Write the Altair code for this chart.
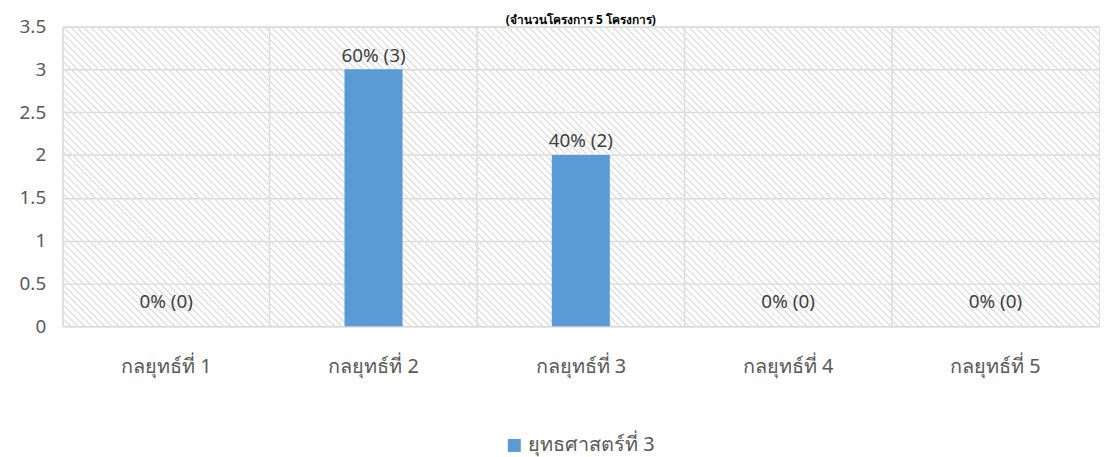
import altair as alt
import pandas as pd

categories = ["กลยุทธ์ที่ 1", "กลยุทธ์ที่ 2", "กลยุทธ์ที่ 3", "กลยุทธ์ที่ 4", "กลยุทธ์ที่ 5"]
values = [0, 3, 2, 0, 0]
series_name = "ยุทธศาสตร์ที่ 3"
title_text = "(จำนวนโครงการ 5 โครงการ)"
y_ticks = [0, 0.5, 1, 1.5, 2, 2.5, 3, 3.5]

total = sum(values)
labels = [f"{round(v / total * 100)}% ({v})" for v in values]

df = pd.DataFrame({"category": categories, "value": values, "label": labels,
                   "series": [series_name] * len(categories)})

W, H = 1044, 302

# diagonal hatch via hard-stop linear gradient (isolines x - y = const)
r = H / W
k = (1 + r) / (1 + r * r)
period = 7.0
line_w = 2.0
span = W + H
stops = []
pos = 0.0
line_c = "#e2e2e2"
bg_c = "rgba(255,255,255,0)"
stops.append({"offset": 0, "color": bg_c})
while pos < span:
    a = pos / span
    b = min((pos + line_w) / span, 1.0)
    stops.append({"offset": a, "color": line_c})
    stops.append({"offset": b, "color": line_c})
    stops.append({"offset": b, "color": bg_c})
    nxt = min((pos + period) / span, 1.0)
    stops.append({"offset": nxt, "color": bg_c})
    pos += period

hatch = alt.LinearGradient(gradient="linear", x1=0, y1=1, x2=k, y2=1 - k * r,
                           stops=[alt.GradientStop(offset=s["offset"], color=s["color"]) for s in stops])

background = alt.Chart(pd.DataFrame({"bg": [0]})).mark_rect(fill=hatch, strokeWidth=0).encode(
    x=alt.value(0), x2=alt.value(W), y=alt.value(0), y2=alt.value(H)
)

FONT = "Noto Sans"

x_enc = alt.X("category:N", sort=categories,
              scale=alt.Scale(paddingInner=0, paddingOuter=0),
              axis=alt.Axis(title=None, labelAngle=0, grid=True, bandPosition=0,
                            ticks=False, domain=False, labelPadding=31,
                            gridColor="#d9d9d9", gridWidth=1.5,
                            labelFontSize=20, labelColor="#595959", labelFont=FONT))

bars = alt.Chart(df).mark_bar(width=alt.RelativeBandSize(0.28)).encode(
    x=x_enc,
    y=alt.Y("value:Q", scale=alt.Scale(domain=[0, 3.5]),
            axis=alt.Axis(values=y_ticks, format="~g", title=None, ticks=False,
                          domain=False, labelPadding=17, gridColor="#d9d9d9", gridWidth=1.5,
                          labelFontSize=19, labelColor="#595959", labelFont=FONT)),
    color=alt.Color("series:N", scale=alt.Scale(domain=[series_name], range=["#5b9bd5"]),
                    legend=alt.Legend(title=None, orient="none", legendX=445, legendY=412,
                                      symbolType="square", symbolSize=170,
                                      labelFontSize=20, labelColor="#595959",
                                      labelFont=FONT, symbolStrokeWidth=0)),
)

text = alt.Chart(df).transform_calculate(
    label_y="datum.value == 0 ? 0.285 : datum.value + 0.16"
).mark_text(fontSize=19, color="#404040", baseline="middle", font=FONT).encode(
    x=alt.X("category:N", sort=categories),
    y=alt.Y("label_y:Q"),
    text="label:N",
)

chart = alt.layer(background, bars, text).properties(
    width=W, height=H,
    autosize=alt.AutoSizeParams(type="none"),
    padding={"left": 55, "top": 17, "right": 3, "bottom": 130},
    title=alt.Title(title_text, fontSize=12, fontWeight="bold", color="#000000",
                    offset=-9, font=FONT, anchor="middle"),
).configure_view(stroke="#d9d9d9", strokeWidth=1.5).configure(background="white")

chart.save("out.html", embed_options={"renderer": "svg", "actions": False})
